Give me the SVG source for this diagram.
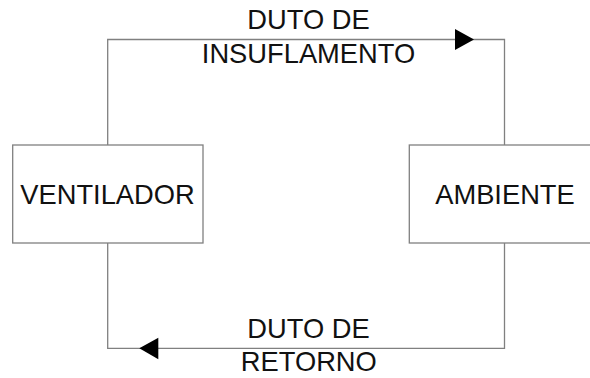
<svg xmlns="http://www.w3.org/2000/svg" width="590" height="378" viewBox="0 0 590 378">
<style>
.box{fill:#fff;stroke:#808080;stroke-width:1.3}
.ln{fill:none;stroke:#808080;stroke-width:1.3}
.t{font-family:"Liberation Sans",Arial,sans-serif;font-size:27.3px;fill:#111;text-anchor:middle}
.ah{fill:#000;stroke:none}
</style>
<rect width="590" height="378" fill="#fff"/>
<g id="connectors">
<path class="ln" d="M107.7,145 V39.5 H504.5 V145"/>
<path class="ln" d="M504.5,243 V348.3 H107.7 V243"/>
<polygon class="ah" points="474,39.5 455,29 455,50"/>
<polygon class="ah" points="139.3,348.3 158.3,337.7 158.3,359.3"/>
<text class="t" x="308.5" y="29.3">DUTO DE</text>
<text class="t" x="308.5" y="63.3">INSUFLAMENTO</text>
<text class="t" x="308.5" y="338.3">DUTO DE</text>
<text class="t" x="308.8" y="371">RETORNO</text>
</g>
<g id="ventilador">
<rect class="box" x="12.7" y="145" width="190.3" height="98"/>
<text class="t" x="107.5" y="204.3">VENTILADOR</text>
</g>
<g id="ambiente">
<rect class="box" x="409.3" y="145" width="190.5" height="98"/>
<text class="t" x="505" y="204.3">AMBIENTE</text>
</g>
</svg>
